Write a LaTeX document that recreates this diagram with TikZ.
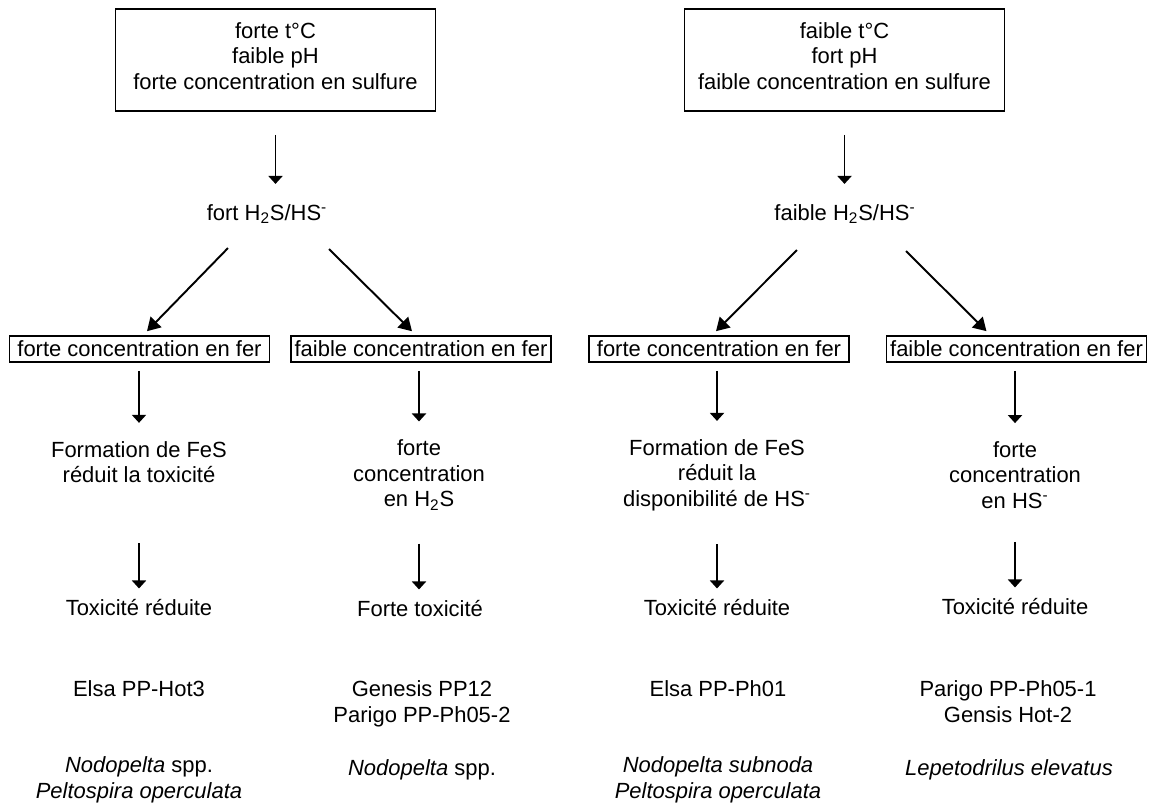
\documentclass[tikz,border=0pt]{standalone}
\usepackage{fontspec}
\setmainfont{Liberation Sans}
\usetikzlibrary{arrows.meta, calc}

\begin{document}
\begin{tikzpicture}[x=0.02cm, y=-0.02cm,
    every node/.style={font=\fontsize{12.5}{14.5}\selectfont, inner sep=0pt, align=center},
    cadre/.style={draw, line width=0.9pt, minimum width=6.4cm, minimum height=2.04cm},
    fer/.style={draw, line width=0.9pt, minimum width=5.2cm, minimum height=0.52cm},
    fleche/.style={-{Triangle[width=0.28cm,length=0.16cm]}, line width=1.1pt},
    oblique/.style={-{Triangle[width=0.3cm,length=0.26cm]}, line width=1.1pt}]

    \useasboundingbox (0,0) rectangle (1149,803);

    % conditions du milieu
    \node[cadre] (condG) at (275.5,60) {forte t°C\\faible pH\\forte concentration en sulfure\rule[-0.16cm]{0pt}{0pt}};
    \node[cadre] (condD) at (844.5,60) {faible t°C\\fort pH\\faible concentration en sulfure\rule[-0.16cm]{0pt}{0pt}};

    % sulfures
    \node (hsG) at (267,214) {fort H\textsubscript{2}S/HS\textsuperscript{-}};
    \node (hsD) at (845,214) {faible H\textsubscript{2}S/HS\textsuperscript{-}};

    % fer
    \node[fer] (ferA) at (139.5,349) {forte concentration en fer};
    \node[fer] (ferB) at (421,349) {faible concentration en fer};
    \node[fer] (ferC) at (719,349) {forte concentration en fer};
    \node[fer] (ferD) at (1016.5,349) {faible concentration en fer};

    % effets
    \node (effA) at (139,462) {Formation de FeS\\réduit la toxicité};
    \node (effB) at (419,475) {forte\\concentration\\en H\textsubscript{2}S};
    \node (effC) at (717,475) {Formation de FeS\\réduit la\\disponibilité de HS\textsuperscript{-}};
    \node (effD) at (1015,475) {forte\\concentration\\en HS\textsuperscript{-}};

    % toxicite
    \node (toxA) at (139,608) {Toxicité réduite};
    \node (toxB) at (420,609) {Forte toxicité};
    \node (toxC) at (717,608) {Toxicité réduite};
    \node (toxD) at (1015,607) {Toxicité réduite};

    % sites
    \node (siteA) at (139,689) {Elsa PP-Hot3};
    \node (siteB) at (422,704) {Genesis PP12\\Parigo PP-Ph05-2};
    \node (siteC) at (718,689) {Elsa PP-Ph01};
    \node (siteD) at (1008,701.5) {Parigo PP-Ph05-1\\Gensis Hot-2};

    % especes
    \node (espA) at (139,780) {\textit{Nodopelta} spp.\\\textit{Peltospira operculata}};
    \node (espB) at (422,770) {\textit{Nodopelta} spp.};
    \node (espC) at (718,780) {\textit{Nodopelta subnoda}\\\textit{Peltospira operculata}};
    \node (espD) at (1009,770) {\textit{Lepetodrilus elevatus}};

    % fleches
    \draw[fleche] ($(condG.south)+(0,23)$) -- ($(condG.south |- hsG.north)+(0,-20)$);
    \draw[fleche] ($(condD.south)+(0,23)$) -- ($(condD.south |- hsD.north)+(0,-20)$);

    \draw[oblique] ($(hsG.south)+(-39,24)$) -- ($(ferA.north)+(7.5,-4)$);
    \draw[oblique] ($(hsG.south)+(62,25)$) -- ($(ferB.north)+(-9,-4)$);
    \draw[oblique] ($(hsD.south)+(-48,26)$) -- ($(ferC.north)+(-3,-4)$);
    \draw[oblique] ($(hsD.south)+(61,27)$) -- ($(ferD.north)+(-30,-4)$);

    \foreach \c in {A,B,C,D} {
        \draw[fleche] ($(eff\c.north |- fer\c.south)+(0,8)$) -- ($(eff\c.north)+(0,-18)$);
    }
    \foreach \c/\d in {A/60,B/33,C/33,D/33} {
        \draw[fleche] ($(eff\c.south)+(0,\d)$) -- ($(eff\c.south |- tox\c.north)+(0,-11)$);
    }
\end{tikzpicture}
\end{document}
